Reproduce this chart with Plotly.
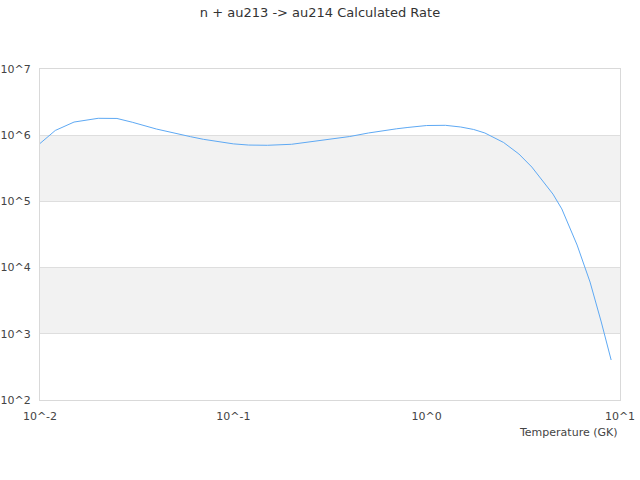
import plotly.graph_objects as go

title = "n + au213 -> au214 Calculated Rate"
x_label = "Temperature (GK)"

temperature = [0.01, 0.012, 0.015, 0.02, 0.025, 0.03, 0.04, 0.05, 0.06, 0.07, 0.08, 0.09,
               0.1, 0.12, 0.15, 0.2, 0.25, 0.3, 0.4, 0.5, 0.6, 0.7, 0.8, 0.9,
               1.0, 1.25, 1.5, 1.75, 2.0, 2.5, 3.0, 3.5, 4.0, 4.5, 5.0, 6.0, 7.0, 8.0, 9.0]
rate = [7.5e5, 1.18e6, 1.58e6, 1.80e6, 1.79e6, 1.57e6, 1.24e6, 1.06e6, 9.5e5, 8.67e5, 8.2e5, 7.76e5,
        7.4e5, 7.1e5, 7.04e5, 7.29e5, 8.0e5, 8.6e5, 9.55e5, 1.08e6, 1.18e6, 1.25e6, 1.31e6, 1.35e6,
        1.40e6, 1.41e6, 1.33e6, 1.22e6, 1.08e6, 7.76e5, 5.2e5, 3.3e5, 1.96e5, 1.29e5, 7.7e4, 2.19e4, 6.05e3, 1.51e3, 4.02e2]

x_tickvals = [0.01, 0.1, 1, 10]
x_ticktext = ["10^-2", "10^-1", "10^0", "10^1"]
y_tickvals = [1e2, 1e3, 1e4, 1e5, 1e6, 1e7]
y_ticktext = ["10^2", "10^3", "10^4", "10^5", "10^6", "10^7"]
bands = [(1e3, 1e4), (1e5, 1e6)]

FONT = "DejaVu Sans"
W, H = 640, 480
fig = go.Figure()
fig.add_trace(go.Scatter(x=temperature, y=rate, mode="lines",
                         line=dict(color="#5ea9f4", width=1), hoverinfo="x+y",
                         showlegend=False))

for y0, y1 in bands:
    fig.add_shape(type="rect", xref="paper", x0=0, x1=1, yref="y", y0=y0, y1=y1,
                  fillcolor="#f2f2f2", line=dict(width=0), layer="below")

fig.update_layout(
    width=W, height=H,
    margin=dict(l=40, r=20, t=69, b=80),
    paper_bgcolor="white", plot_bgcolor="white",
    font=dict(family=FONT, size=11, color="#444"),
    title=dict(text=title, x=0.5, xanchor="center", y=1 - 12 / H, yanchor="middle",
               font=dict(family=FONT, size=13, color="#333")),
    xaxis=dict(type="log", range=[-2, 1], tickvals=x_tickvals, ticktext=x_ticktext,
               showgrid=False, zeroline=False, showline=True, linecolor="#d9d9d9",
               linewidth=1, mirror=True, ticks="", automargin=False,
               ticklabelstandoff=6, tickfont=dict(size=11, color="#444")),
    yaxis=dict(type="log", range=[2, 7], tickvals=y_tickvals, ticktext=y_ticktext,
               showgrid=True, gridcolor="#dedede", gridwidth=1, zeroline=False,
               showline=True, linecolor="#d9d9d9", linewidth=1, mirror=True,
               ticks="", automargin=False, ticklabelstandoff=6,
               tickfont=dict(size=11, color="#444")),
    annotations=[dict(text=x_label, xref="paper", yref="paper", x=1, y=0,
                      xanchor="right", yanchor="top", yshift=-24, showarrow=False,
                      font=dict(family=FONT, size=11, color="#444"))],
)

fig.write_html("out.html", config={"displayModeBar": False},
               post_script="document.body.style.margin='0';document.body.style.overflow='hidden';")
